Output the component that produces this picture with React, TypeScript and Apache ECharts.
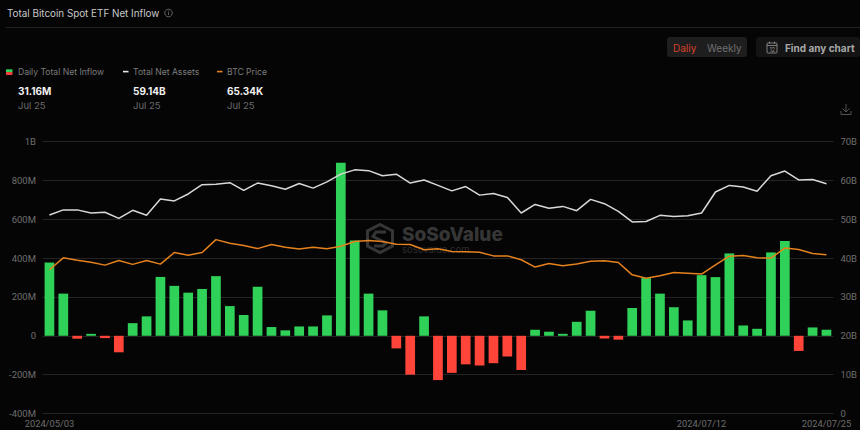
import React, { useEffect, useRef } from "react";
import * as echarts from "echarts";

const dates = [
  "2024/05/03","2024/05/06","2024/05/07","2024/05/08","2024/05/09","2024/05/10",
  "2024/05/13","2024/05/14","2024/05/15","2024/05/16","2024/05/17",
  "2024/05/20","2024/05/21","2024/05/22","2024/05/23","2024/05/24",
  "2024/05/28","2024/05/29","2024/05/30","2024/05/31",
  "2024/06/03","2024/06/04","2024/06/05","2024/06/06","2024/06/07",
  "2024/06/10","2024/06/11","2024/06/12","2024/06/13","2024/06/14",
  "2024/06/17","2024/06/18","2024/06/20","2024/06/21",
  "2024/06/24","2024/06/25","2024/06/26","2024/06/27","2024/06/28",
  "2024/07/01","2024/07/02","2024/07/03","2024/07/05",
  "2024/07/08","2024/07/09","2024/07/10","2024/07/11","2024/07/12",
  "2024/07/15","2024/07/16","2024/07/17","2024/07/18","2024/07/19",
  "2024/07/22","2024/07/23","2024/07/24","2024/07/25",
];
const shownDates = ["2024/05/03", "2024/07/12", "2024/07/25"];

const inflowM = [
  377,217,-15,10,-12,-85,65,100,303,257,222,241,307,153,107,252,45,28,48,48,
  105,890,490,217,131,-65,-200,100,-228,-191,-147,-153,-141,-107,-176,31,21,10,72,129,
  -14,-20,143,297,217,147,79,312,302,424,53,36,429,488,-78,43,31.16,
];
const assetsB = [
  51.1,52.4,52.4,51.6,51.8,50.2,52.3,51.0,55.2,54.7,56.5,58.9,59.0,59.4,57.4,59.3,58.6,57.7,59.2,
  58.0,59.6,61.6,62.7,62.5,61.2,61.6,59.3,60.1,58.7,57.3,58.4,56.2,56.6,55.6,51.6,53.8,52.8,
  53.3,52.2,55.1,54.0,52.0,49.3,49.4,51.0,50.7,50.9,51.6,57.0,58.7,58.3,57.2,61.2,62.4,60.1,60.2,59.14,
];
const priceK = [
  59.2,64.1,63.1,62.3,61.1,63.0,61.4,63.0,61.5,66.3,65.2,66.3,71.6,70.1,69.2,67.9,69.6,68.5,67.7,
  68.5,67.8,68.9,70.8,71.2,70.8,69.7,69.6,67.4,67.8,66.7,66.6,66.4,64.9,64.9,63.3,60.3,61.8,
  60.8,61.6,62.7,62.9,62.2,57.1,55.7,56.7,58.1,57.8,57.4,61.2,64.8,65.1,64.1,64.0,68.1,67.5,65.9,65.34,
];
const leftTicks: Record<string, string> = {
  "-400": "-400M", "-200": "-200M", "0": "0", "200": "200M", "400": "400M", "600": "600M", "800": "800M", "1000": "1B",
};
const legendItems = [
  { name: "Daily Total Net Inflow", value: "31.16M", date: "Jul 25" },
  { name: "Total Net Assets", value: "59.14B", date: "Jul 25" },
  { name: "BTC Price", value: "65.34K", date: "Jul 25" },
];

const FONT = "Roboto, 'Noto Sans', sans-serif";
const UI = "Inter, Roboto, sans-serif";
const GREEN = "#30d158";
const RED = "#ff453a";
const ORANGE = "#e5821f";
const WHITE = "#d8d8d8";
const GRID = "#242424";
const AXIS_TEXT = "#6e6e6e";

function text(x: number, y: number, t: string, fill: string, size: number, weight: any = 400, family = UI, z = 5) {
  return { type: "text", x, y, z, silent: true, style: { text: t, fill, fontSize: size, fontWeight: weight, fontFamily: family, textVerticalAlign: "middle", textAlign: "left" } };
}
function rect(x: number, y: number, w: number, h: number, fill: string, r = 0, z = 1) {
  return { type: "rect", z, silent: true, shape: { x, y, width: w, height: h, r }, style: { fill } };
}
function line(x1: number, y1: number, x2: number, y2: number, stroke: string, lineWidth = 1, z = 5) {
  return { type: "line", z, silent: true, shape: { x1, y1, x2, y2 }, style: { stroke, lineWidth, fill: "none" } };
}
function poly(points: number[][], stroke: string, lineWidth = 1, z = 5) {
  return { type: "polyline", z, silent: true, shape: { points }, style: { stroke, lineWidth, fill: "none" } };
}

function buildGraphic() {
  const g: any[] = [
    text(7, 13, "Total Bitcoin Spot ETF Net Inflow", "#c8c8c8", 9.85),
    { type: "circle", z: 5, silent: true, shape: { cx: 168.5, cy: 13, r: 3.8 }, style: { stroke: "#777", lineWidth: 0.8, fill: "none" } },
    line(168.5, 12.3, 168.5, 15, "#777", 0.8),
    line(168.5, 10.6, 168.5, 11.4, "#777", 0.8),
    line(6, 27.5, 860, 27.5, "#222222", 1),

    rect(667, 37, 80, 20, "#1e1e1e", 3),
    text(673, 47.5, "Daliy", "#d8412a", 10),
    text(707, 47.5, "Weekly", "#6f6f6f", 10),
    rect(756, 37, 104, 20, "#141414", 3),
    { type: "rect", z: 5, silent: true, shape: { x: 767, y: 43, width: 10, height: 10, r: 1 }, style: { stroke: "#8a8a8a", lineWidth: 0.9, fill: "none" } },
    line(767, 45.5, 777, 45.5, "#8a8a8a", 0.9),
    line(769.5, 41.5, 769.5, 43.5, "#8a8a8a", 0.9),
    line(774.5, 41.5, 774.5, 43.5, "#8a8a8a", 0.9),
    text(769.4, 49.5, "12", "#8a8a8a", 5.5, 500),
    text(785, 47.5, "Find any chart", "#a8a8a8", 10, 700),

    // legend
    rect(6, 69.3, 6.5, 2.8, GREEN, 0, 5),
    rect(6, 72.1, 6.5, 2.8, RED, 0, 5),
    line(123, 71.6, 128.5, 71.6, "#e6e6e6", 1.6),
    line(217, 71.6, 222.5, 71.6, ORANGE, 1.6),

    // download icon
    poly([[846, 112], [846, 104]], "#5c5c5c", 0.9),
    poly([[842.5, 108.5], [846, 112], [849.5, 108.5]], "#5c5c5c", 0.9),
    poly([[841, 111], [841, 114.5], [851, 114.5], [851, 111]], "#5c5c5c", 0.9),
  ];
  const xs = [18, 133, 227];
  legendItems.forEach((it, i) => {
    g.push(text(xs[i], 71.6, it.name, "#7c7c7c", 8.6));
    g.push(text(xs[i], 91.2, it.value, "#f0f0f0", 10, 700));
    g.push(text(xs[i], 105.5, it.date, "#6b6b6b", 9.5));
  });

  // watermark
  const W = "#363636";
  g.push({ type: "polygon", z: 0, silent: true, shape: { points: [[380, 224.5], [392.5, 231], [392.5, 246], [380, 252.5], [367.5, 246], [367.5, 231]] }, style: { stroke: W, lineWidth: 3, fill: "none" } });
  g.push(poly([[386, 232], [376, 232], [373, 236.5], [386, 243], [383, 246], [374, 246]], W, 3, 0));
  g.push(text(402, 234, "SoSoValue", W, 19, 800, "Inter, sans-serif", 0));
  g.push(text(402, 249.5, "sosovalue.com", "#2c2c2c", 9.5, 400, UI, 0));
  return g;
}

export default function App() {
  const ref = useRef<HTMLDivElement>(null);
  useEffect(() => {
    document.body.style.margin = "0";
    document.body.style.background = "#050505";
    const chart = echarts.init(ref.current!, undefined, { renderer: "svg" });
    chart.setOption({
      animation: false,
      backgroundColor: "#050505",
      graphic: buildGraphic(),
      grid: { left: 42.5, right: 26.5, top: 141.5, height: 272, containLabel: false },
      xAxis: {
        type: "category",
        data: dates,
        axisLine: { show: false },
        axisTick: { show: false },
        splitLine: { show: false },
        axisLabel: {
          color: AXIS_TEXT, fontSize: 9.3, fontFamily: FONT, margin: 5,
          hideOverlap: false,
          interval: (_: number, v: string) => shownDates.includes(v),
        },
      },
      yAxis: [
        {
          type: "value", min: -400, max: 1000, interval: 200,
          axisLine: { show: false }, axisTick: { show: false },
          splitLine: { lineStyle: { color: GRID, width: 1 } },
          axisLabel: { color: AXIS_TEXT, fontSize: 9.5, fontFamily: FONT, margin: 6.5, formatter: (v: number) => leftTicks[String(v)] },
        },
        {
          type: "value", min: 0, max: 70, interval: 10, position: "right",
          axisLine: { show: false }, axisTick: { show: false }, splitLine: { show: false },
          axisLabel: { color: AXIS_TEXT, fontSize: 9.5, fontFamily: FONT, margin: 7, formatter: (v: number) => (v === 0 ? "0" : v + "B") },
        },
        {
          type: "value", min: 0, max: 112, show: false, splitLine: { show: false },
        },
      ],
      series: [
        {
          type: "bar", name: "Daily Total Net Inflow", data: inflowM, yAxisIndex: 0, barWidth: 9.7, z: 2,
          itemStyle: { color: (p: any) => (p.value >= 0 ? GREEN : RED) },
        },
        {
          type: "line", name: "Total Net Assets", data: assetsB, yAxisIndex: 1, showSymbol: false, z: 3,
          lineStyle: { color: WHITE, width: 1.5 },
        },
        {
          type: "line", name: "BTC Price", data: priceK, yAxisIndex: 2, showSymbol: false, z: 4,
          lineStyle: { color: ORANGE, width: 1.5 },
        },
      ],
    });
    return () => chart.dispose();
  }, []);
  return <div ref={ref} style={{ width: 860, height: 430 }} />;
}
